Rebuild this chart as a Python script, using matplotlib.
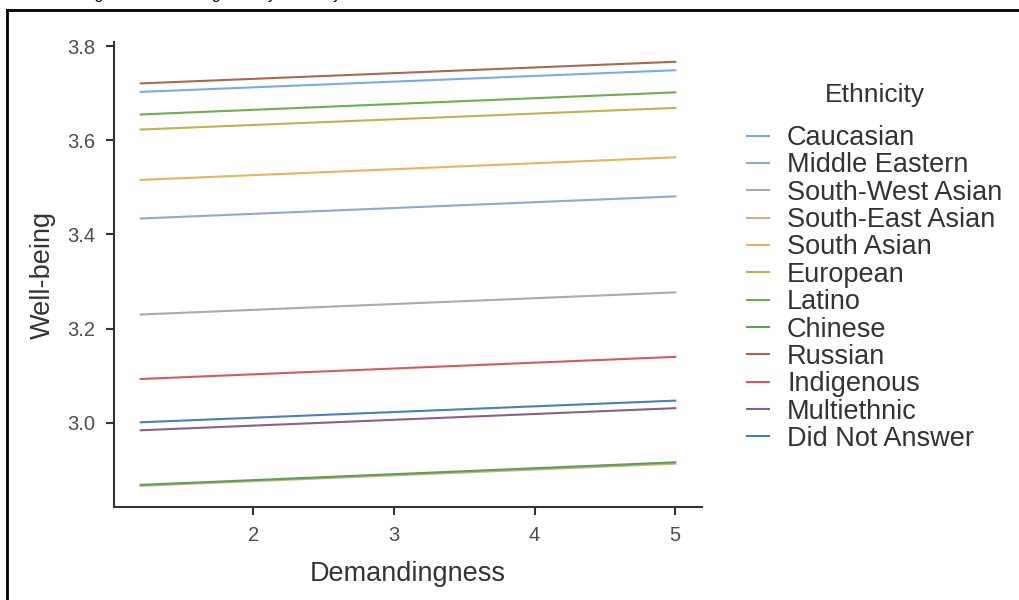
import matplotlib
matplotlib.use("Agg")
import matplotlib.pyplot as plt
from matplotlib.lines import Line2D
import numpy as np

plt.rcParams['font.family'] = ['Liberation Sans', 'DejaVu Sans']

# Data
ethnicities = ["Caucasian", "Middle Eastern", "South-West Asian", "South-East Asian",
               "South Asian", "European", "Latino", "Chinese", "Russian",
               "Indigenous", "Multiethnic", "Did Not Answer"]
x_range = [1.2, 5.0]
wb_start = [3.703, 3.434, 3.230, 2.866, 3.516, 3.623, 3.655, 2.868, 3.721, 3.093, 2.984, 3.001]
wb_end   = [3.749, 3.481, 3.277, 2.913, 3.564, 3.669, 3.702, 2.916, 3.767, 3.140, 3.031, 3.047]
colors = ["#7aaaee", "#8eaad2", "#a9abb0", "#c9b08e", "#e8b462", "#c2b150",
          "#6ab04c", "#5f9e55", "#a8694f", "#d45a60", "#8a6088", "#4a7ec0"]

x_ticks = [2, 3, 4, 5]
y_ticks = [3.0, 3.2, 3.4, 3.6, 3.8]

fig = plt.figure(figsize=(10.19, 6.0), dpi=100)
ax = fig.add_axes([114/1019, 1 - 507/600, (702-114)/1019, (507-42)/600])

for name, s, e, c in zip(ethnicities, wb_start, wb_end, colors):
    ax.plot(x_range, [s, e], color=c, lw=1.5, label=name)

ax.set_xlim(1.01, 5.19)
ax.set_ylim(2.821, 3.809)
ax.set_xticks(x_ticks)
ax.set_xticklabels([str(t) for t in x_ticks])
ax.set_yticks(y_ticks)
ax.set_yticklabels([f"{t:.1f}" for t in y_ticks])

for side in ["top", "right"]:
    ax.spines[side].set_visible(False)
for side in ["left", "bottom"]:
    ax.spines[side].set_color("#333333")
    ax.spines[side].set_linewidth(1.5)
ax.tick_params(axis="both", colors="#333333", width=1.5, length=6,
               labelsize=14.5, labelcolor="#4d4d4d", pad=7.5)

ax.set_xlabel("Demandingness", fontsize=19.5, color="#333333", labelpad=12)
ax.set_ylabel("Well-being", fontsize=19.5, color="#333333", labelpad=8)

leg = ax.legend(loc="upper left", bbox_to_anchor=(747/1019, 1 - 83/600),
                bbox_transform=fig.transFigure, frameon=False,
                title="Ethnicity", fontsize=19.5, title_fontsize=19,
                handlelength=0.81, handletextpad=0.67, labelspacing=0.05,
                borderaxespad=0, borderpad=0)
for t in leg.get_texts():
    t.set_color("#333333")
leg.get_title().set_color("#333333")
leg._legend_box.sep = 13

# Figure border (partially cropped frame)
fig.add_artist(Line2D([7/1019, 1.0], [1 - 10/600, 1 - 10/600],
                      transform=fig.transFigure, color="black", lw=2))
fig.add_artist(Line2D([7/1019, 7/1019], [0.0, 1 - 10/600],
                      transform=fig.transFigure, color="black", lw=2))

# Cropped title (only descenders visible)
fig.text(28/1019, 1 + 1.5/600, "Well-being and Demandingness by Ethnicity",
         fontsize=11.5, color="black", va="baseline", ha="left")

fig.savefig("out.png", dpi=100)
